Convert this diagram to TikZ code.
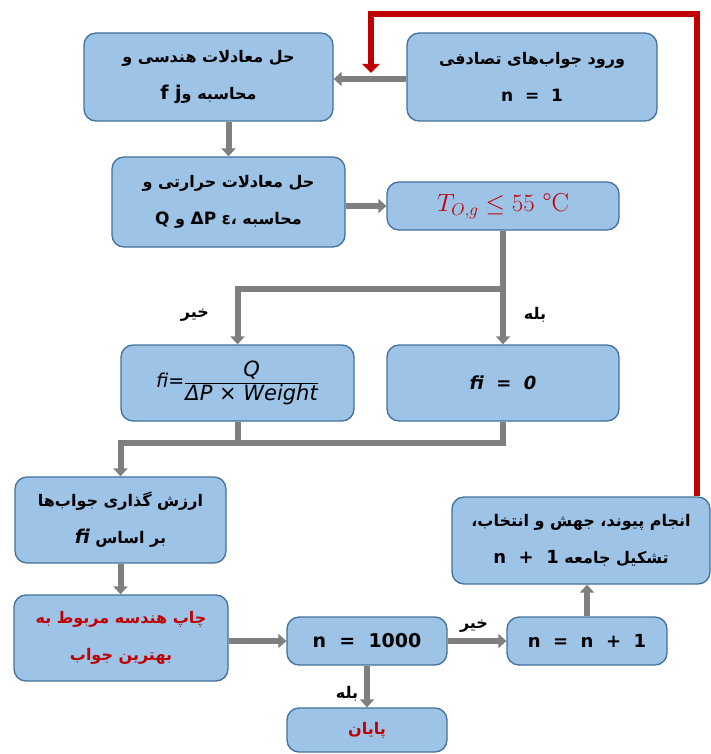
\documentclass[tikz,border=0pt]{standalone}
\usepackage{fontspec}
\usetikzlibrary{arrows.meta,calc}
\TeXXeTstate=1
\newfontfamily\fa[Script=Arabic]{DejaVu Sans}
\newfontfamily\lat{DejaVu Sans}
\definecolor{boxfill}{HTML}{9DC3E6}
\definecolor{boxline}{HTML}{41719C}
\definecolor{arrowgray}{HTML}{7F7F7F}
\definecolor{loopred}{HTML}{C00000}
\begin{document}
\begin{tikzpicture}[x=1pt,y=-1pt,
  flowbox/.style={draw=boxline, line width=1.3pt, fill=boxfill, rounded corners=12pt,
    inner sep=0pt, align=center, font=\fa\bfseries\fontsize{16}{37}\selectfont},
  garrow/.style={draw=arrowgray, line width=6pt, -{Triangle[width=14pt,length=8pt]}},
  gline/.style={draw=arrowgray, line width=6pt},
  rarrow/.style={draw=loopred, line width=6pt, -{Triangle[width=17pt,length=9pt]}},
  lbl/.style={font=\fa\bfseries\fontsize{16}{18}\selectfont, inner sep=1pt}]
\useasboundingbox (0,0) rectangle (711,754);

% boxes
\node[flowbox, minimum width=249pt, minimum height=88pt] (A) at (208.5,77)
  {\beginR حل معادلات هندسی و\endR\\\beginR محاسبه و\beginL{\lat\fontsize{19}{20}\selectfont f j}\endL\endR};
\node[flowbox, minimum width=250pt, minimum height=88pt] (B) at (532,77)
  {\beginR ورود جواب‌های تصادفی\endR\\{\lat\fontsize{17}{20}\selectfont n\ \ =\ \ 1}};
\node[flowbox, minimum width=233pt, minimum height=90pt] (C) at (228.5,202)
  {\beginR حل معادلات حرارتی و\endR\\\beginR محاسبه ε، \beginL{\lat\fontsize{17}{20}\selectfont ΔP}\endL{} و {\lat\fontsize{17}{20}\selectfont Q}\endR};
\node[flowbox, minimum width=232pt, minimum height=48pt] (D) at (503,206)
  {\normalfont\fontsize{26}{30}\selectfont\color{loopred}$T_{O,g}\leq 55$ \textdegree{}C};
\node[flowbox, minimum width=233pt, minimum height=76pt] (E) at (237.5,383)
  {\lat\fontsize{19}{22}\selectfont\mdseries\itshape fi=$\displaystyle\frac{\hbox{\lat\fontsize{21}{24}\selectfont\itshape Q}}{\hbox{\lat\fontsize{21}{24}\selectfont\itshape ΔP × Weight}}$};
\node[flowbox, minimum width=232pt, minimum height=76pt] (F) at (503,383)
  {\lat\fontsize{18}{22}\selectfont\itshape fi\ \ =\ \ 0};
\node[flowbox, minimum width=211pt, minimum height=86pt] (G) at (120.5,520)
  {\beginR ارزش گذاری جواب‌ها\endR\\\beginR بر اساس \beginL{\lat\fontsize{19}{20}\selectfont\itshape fi}\endL\endR};
\node[flowbox, minimum width=258pt, minimum height=87pt] (H) at (581,540.5)
  {\beginR انجام پیوند، جهش و انتخاب،\endR\\\beginR تشکیل جامعه \beginL{\lat\fontsize{18}{20}\selectfont n\ \ +\ \ 1}\endL\endR};
\node[flowbox, minimum width=214pt, minimum height=86pt, text=loopred] (I) at (121,638)
  {\beginR چاپ هندسه مربوط به\endR\\\beginR بهترین جواب\endR};
\node[flowbox, minimum width=160pt, minimum height=48pt] (J) at (367,641)
  {\lat\fontsize{19}{22}\selectfont n\ \ =\ \ 1000};
\node[flowbox, minimum width=160pt, minimum height=48pt] (K) at (587,641)
  {\lat\fontsize{18}{22}\selectfont n\ \ =\ \ n\ \ +\ \ 1};
\node[flowbox, minimum width=160pt, minimum height=44pt, text=loopred] (L) at (367,730)
  {\beginR پایان\endR};

% connectors
\draw[garrow] (B.west |- 0,79) -- (A.east |- 0,79);
\draw[garrow] (A.south -| C.north) -- (C.north);
\draw[garrow] (C.east |- D.west) -- (D.west);
\coordinate (j1) at ($(D.south)+(0,58)$);
\draw[garrow] (D.south) -- (F.north);
\draw[garrow] (j1) -| (E.north);
\coordinate (j2) at ($(E.south)+(0,21)$);
\draw[gline] (E.south) -- (j2);
\draw[garrow] (F.south) -- (F.south |- j2) -- (j2 -| G.north) -- (G.north);
\draw[garrow] (G.south) -- (G.south |- I.north);
\draw[garrow] (I.east |- J.west) -- (J.west);
\draw[garrow] (J.east) -- (K.west);
\draw[garrow] (J.south) -- (L.north);
\draw[garrow] (K.north) -- (K.north |- H.south);

% red feedback loop
\coordinate (r0) at ($(H.north east)+(-14,0)$);
\coordinate (rtop) at (371,14);
\coordinate (rend) at (371,73);
\draw[rarrow] (r0) |- (rtop) -- (rend);

% labels
\node[lbl] (no1) at (195,315) {\beginR خیر\endR};
\node[lbl] (yes1) at (535,315) {\beginR بله\endR};
\node[lbl] (no2) at (474,626) {\beginR خیر\endR};
\node[lbl] (yes2) at (347,694) {\beginR بله\endR};
\end{tikzpicture}
\end{document}
